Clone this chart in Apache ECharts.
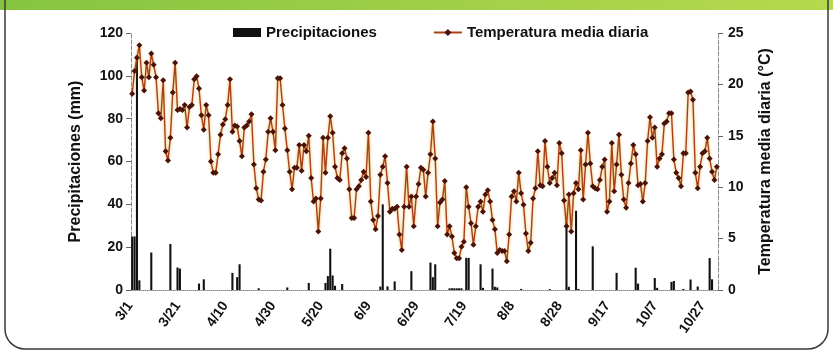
<!DOCTYPE html>
<html>
<head>
<meta charset="utf-8">
<script src="https://cdn.jsdelivr.net/npm/echarts@6/dist/echarts.min.js"></script>
<style>html,body{margin:0;padding:0;background:#fff;}#c{width:833px;height:351px;}</style>
</head>
<body>
<div id="c"></div>
<script>
// ---- data ----
var startMonth = 3, startDay = 1, nDays = 246;
var tickLabels = ['3/1','3/21','4/10','4/30','5/20','6/9','6/29','7/19','8/8','8/28','9/17','10/7','10/27'];
var temperature = [
19.1,21.3,22.6,23.8,20.7,19.4,22.1,20.7,23.0,21.9,
20.7,17.2,16.7,20.4,13.5,12.6,14.8,19.2,22.1,17.5,
17.6,17.5,18.0,15.8,17.8,18.0,20.5,20.8,19.6,17.0,
15.6,18.0,17.0,12.5,11.4,11.4,13.2,15.1,16.1,16.6,
18.0,20.5,15.4,16.0,15.9,14.5,13.0,15.8,16.0,16.4,
17.1,12.2,9.9,8.8,8.7,11.5,12.7,15.4,16.7,15.4,
13.6,20.6,20.6,18.0,15.7,13.6,11.5,9.8,11.9,11.9,
14.1,11.6,14.1,13.5,15.0,10.9,8.6,8.9,5.7,8.9,
14.8,11.4,14.8,16.9,15.3,12.0,10.9,10.7,13.3,13.8,
12.8,9.8,7.0,7.0,9.8,10.1,10.7,11.5,11.0,15.3,
8.6,6.8,5.9,7.2,11.2,12.0,13.0,10.4,7.6,7.9,
7.9,8.1,5.4,3.9,8.1,12.0,8.1,9.1,6.2,9.1,
10.3,11.9,11.7,9.1,11.4,13.2,16.4,12.8,6.2,8.5,
8.8,10.6,5.4,6.2,5.2,3.6,3.1,3.1,4.2,4.7,
10.0,8.1,6.5,4.4,6.2,8.1,8.6,7.6,9.3,9.7,
8.6,6.8,5.9,3.6,3.9,3.8,3.8,2.8,5.4,9.1,
9.6,8.6,11.4,9.4,8.3,5.5,3.8,4.6,8.9,9.9,
13.5,10.2,10.1,14.5,12.0,10.4,10.9,11.4,10.2,14.3,
13.3,8.7,6.2,9.3,5.7,9.4,10.4,9.8,13.6,8.8,
12.2,15.3,12.3,10.1,9.9,9.8,10.7,12.0,12.7,7.6,
8.6,14.3,9.6,12.2,15.1,11.2,8.8,8.0,10.4,12.3,
14.1,13.2,10.2,10.3,8.6,10.4,14.5,16.8,14.8,15.8,
12.0,12.8,13.2,16.2,16.4,17.2,17.2,12.7,11.4,10.9,
10.1,13.3,13.3,19.2,19.3,18.5,11.4,9.9,12.0,13.3,
13.5,14.8,12.8,11.5,10.7,12.0
];
var precipitation = [
25,25,108,4.5,0,0,0,0,17.5,0,
0,0,0,0,0,0,21.5,0,0,10.5,
10,0,0,0,0,0,0,0,3,0,
5,0,0,0,0,0,0,0,0,0,
0,0,8,0,6,12,0,0,0,0,
0,0,0,0.8,0,0,0,0,0,0,
0,0,0,0,0,1.2,0,0,0,0,
0,0,0,0,3.3,0,0,0,0,0,
0,3.3,6.5,19.3,6.8,2,0,0,2.8,0,
0,0,0,0,0,0,0,0,0,0,
0,0,0,0,1.6,40,0,1.7,0,0,
4,0,0,0,0,0,0,8.8,0,0,
0,0,0,0,0,12.8,6,12,0,0,
0,0,0,0.8,0.8,0.8,0.8,0.8,0.8,0,
15,15,0,0,0,0,12,1,0,0,
0,10,1.5,1.2,0,0,0,0,0,0,
0,0,0,0.5,0,0,0,0,0,0,
0,0,0,0,0,0.4,0,0,0,0,
0,0,32,1.5,0,0,37,0.5,0,0,
0,0,0,20.4,0,0,0,0,0,0,
0,0,0,8,0,0,0,0,0,0,
0,10.4,3,0,0,0,0,0,0,5.6,
1,0,0,0,0,0,3.8,4.2,0,0,
0,0.5,0,0,4.9,0,0,1.6,0,0,
0,0,14.9,5,0,0
];

// daily category labels
var monthLen = {3:31,4:30,5:31,6:30,7:31,8:31,9:30,10:31,11:30};
var categories = [];
(function(){
  var m = startMonth, d = startDay;
  for (var i = 0; i < nDays; i++) {
    categories.push(m + '/' + d);
    d++;
    if (d > monthLen[m]) { d = 1; m++; }
  }
})();

var FF = '"Liberation Sans", Arial, sans-serif';
var chart = echarts.init(document.getElementById('c'), null, {renderer:'canvas'});
chart.setOption({
  animation: false,
  backgroundColor: '#fff',
  graphic: [
    {type:'rect', z:-10, shape:{x:0,y:0,width:833,height:10},
     style:{fill:new echarts.graphic.LinearGradient(0,0,1,0,[{offset:0,color:'#86c440'},{offset:1,color:'#b6d94e'}])}},
    {type:'rect', z:-10, shape:{x:5,y:-20,width:823,height:369,r:[0,0,20,20]},
     style:{fill:'none', stroke:'#3a3a3a', lineWidth:1.5}}
  ],
  legend: {
    left: 228, top: 20, itemWidth: 28, itemHeight: 9, itemGap: 56,
    textStyle: {fontFamily: FF, fontWeight:'bold', fontSize: 15, color:'#111'},
    data: [{name:'Precipitaciones', icon:'rect'}, {name:'Temperatura media diaria'}]
  },
  grid: {left: 131, right: 115, top: 33, bottom: 61, containLabel: false},
  xAxis: {
    type: 'category', data: categories, boundaryGap: true,
    axisLine: {lineStyle: {color:'#888', type:'dotted', width:1}},
    axisTick: {interval: 19, alignWithLabel: true, length: 5, lineStyle:{color:'#666'}},
    axisLabel: {interval: 19, rotate: 55, margin: 10, fontFamily: FF, fontWeight:'bold', fontSize: 14, color:'#111',
      formatter: function(v){ return v + ' '; }}
  },
  yAxis: [
    {type:'value', min:0, max:120, interval:20, position:'left',
     name:'Precipitaciones (mm)', nameLocation:'middle', nameGap:47, nameRotate:90,
     nameTextStyle:{fontFamily:FF, fontWeight:'bold', fontSize:16, color:'#111'},
     axisLine:{show:true, lineStyle:{color:'#888', type:'dashed', width:1}},
     axisTick:{show:true, length:5, lineStyle:{color:'#666'}},
     splitLine:{show:false},
     axisLabel:{margin:8, fontFamily:FF, fontWeight:'bold', fontSize:14, color:'#111'}},
    {type:'value', min:0, max:25, interval:5, position:'right',
     name:'Temperatura media diaria (°C)', nameLocation:'middle', nameGap:40, nameRotate:90,
     nameTextStyle:{fontFamily:FF, fontWeight:'bold', fontSize:16, color:'#111'},
     axisLine:{show:true, lineStyle:{color:'#888', type:'dashed', width:1}},
     axisTick:{show:true, length:5, lineStyle:{color:'#666'}},
     splitLine:{show:false},
     axisLabel:{margin:10, fontFamily:FF, fontWeight:'bold', fontSize:14, color:'#111'}}
  ],
  series: [
    {name:'Precipitaciones', type:'bar', yAxisIndex:0, data: precipitation,
     barCategoryGap:'12%', itemStyle:{color:'#111'}, z:2},
    {name:'Temperatura media diaria', type:'line', yAxisIndex:1, data: temperature,
     symbol:'diamond', symbolSize:6, showSymbol:true, showAllSymbol:true,
     itemStyle:{color:'#4a1208'},
     lineStyle:{color:'#a5421a', width:1.4, shadowColor:'rgba(235,170,50,0.9)', shadowBlur:3},
     z:3}
  ]
});
</script>
</body>
</html>
